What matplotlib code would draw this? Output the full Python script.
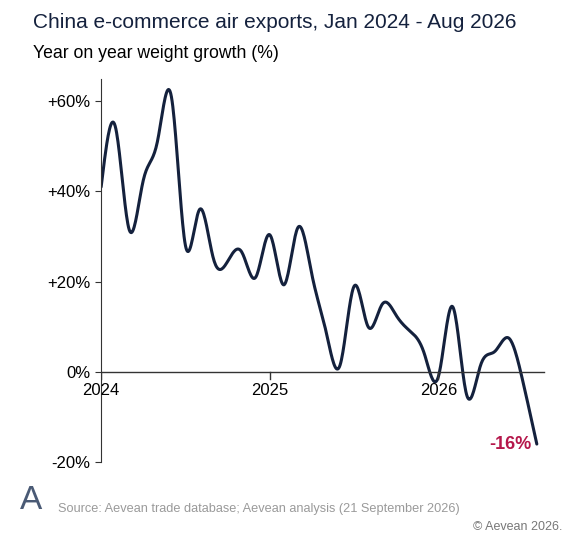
import matplotlib
matplotlib.use("Agg")
import matplotlib.pyplot as plt
import numpy as np

plt.rcParams["font.family"] = ["Liberation Sans", "DejaVu Sans"]

# monthly yoy weight growth, Jan 2024 .. Aug 2026
months = np.arange(32)
growth = [41, 54.5, 31.5, 42.5, 51, 61, 28, 36, 25, 24.5, 26.6, 21,
          30.4, 19.3, 32, 21.5, 9, 1.5, 19, 10, 15, 12.5, 9, 4,
          -1, 14.5, -5, 1.5, 4.5, 7.5, -2, -16]
year_ticks = [0, 12, 24]
year_labels = ["2024", "2025", "2026"]
y_ticks = [-20, 0, 20, 40, 60]
y_labels = ["-20%", "0%", "+20%", "+40%", "+60%"]

navy = "#14213d"
red = "#b5174b"


def natural_spline(x, y, n=20):
    x = np.asarray(x, float); y = np.asarray(y, float)
    k = len(x)
    h = np.diff(x)
    A = np.zeros((k, k)); b = np.zeros(k)
    A[0, 0] = A[-1, -1] = 1
    for i in range(1, k - 1):
        A[i, i - 1] = h[i - 1]; A[i, i] = 2 * (h[i - 1] + h[i]); A[i, i + 1] = h[i]
        b[i] = 6 * ((y[i + 1] - y[i]) / h[i] - (y[i] - y[i - 1]) / h[i - 1])
    M = np.linalg.solve(A, b)
    xs, ys = [], []
    for i in range(k - 1):
        t = np.linspace(x[i], x[i + 1], n, endpoint=False)
        a = x[i + 1] - t; c = t - x[i]
        s = (M[i] * a**3 + M[i + 1] * c**3) / (6 * h[i]) \
            + (y[i] / h[i] - M[i] * h[i] / 6) * a + (y[i + 1] / h[i] - M[i + 1] * h[i] / 6) * c
        xs.extend(t); ys.extend(s)
    xs.append(x[-1]); ys.append(y[-1])
    return np.array(xs), np.array(ys)


fig = plt.figure(figsize=(5.65, 5.43), dpi=100)
ax = fig.add_axes([0.179, 0.149, 0.796, 0.706])

sx, sy = natural_spline(months, growth)
ax.plot(sx, sy, color=navy, lw=2.2, solid_capstyle="round")

ax.set_xlim(0, 32)
ax.set_ylim(-20, 65)
for s in ["top", "right", "bottom"]:
    ax.spines[s].set_visible(False)
ax.spines["left"].set_color("#333333")
ax.plot([0, 31.5], [0, 0], color="#333333", lw=1)
ax.set_yticks(y_ticks)
ax.set_yticklabels(y_labels, fontsize=12)
ax.tick_params(axis="y", length=4, color="#333333")
ax.set_xticks([])
for t, lab in zip(year_ticks, year_labels):
    ax.plot([t, t], [0, -1.5], color="#333333", lw=1)
    ax.text(t, -2.5, lab, ha="center", va="top", fontsize=12)

ax.text(months[-1] - 0.4, growth[-1], "%d%%" % growth[-1], color=red,
        fontsize=13, fontweight="bold", ha="right", va="center")

fig.text(0.058, 0.958, "China e-commerce air exports, Jan 2024 - Aug 2026",
         fontsize=15, color=navy, va="center")
fig.text(0.058, 0.902, "Year on year weight growth (%)", fontsize=12.7, va="center")
fig.text(0.035, 0.078, "A", fontsize=24, color="#4a5a75", va="center")
fig.text(0.103, 0.062, "Source: Aevean trade database; Aevean analysis (21 September 2026)",
         fontsize=9.2, color="#9a9a9a", va="center")
fig.text(0.995, 0.030, "© Aevean 2026.", fontsize=9, color="#777777", ha="right", va="center")

fig.savefig("out.png", dpi=100)
